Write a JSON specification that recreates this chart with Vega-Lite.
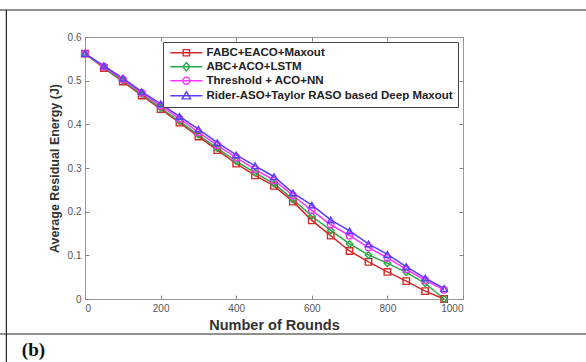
{
  "$schema": "https://vega.github.io/schema/vega-lite/v6.json",
  "width": 378,
  "height": 262,
  "autosize": {"type": "none"},
  "padding": {"left": 85, "top": 37, "right": 123, "bottom": 63},
  "background": "white",
  "config": {
    "view": {"stroke": "#9a9a9a", "strokeWidth": 1},
    "axis": {"domain": false, "grid": false, "tickColor": "#888", "tickSize": -4, "labelColor": "#555", "labelFont": "Liberation Sans", "labelFontSize": 10, "labelPadding": 8, "titleFont": "Liberation Sans", "titleFontSize": 12.5, "titleFontWeight": "bold", "titleColor": "#333"},
    "legend": {"orient": "top-right", "offset": 5, "padding": 5, "strokeColor": "#444", "fillColor": "white", "rowPadding": 0, "symbolSize": 49, "labelOffset": 27, "symbolStrokeWidth": 1.4, "labelFont": "Liberation Sans", "labelFontSize": 11.5, "labelFontWeight": "bold", "labelColor": "#222", "labelLimit": 320}
  },
  "resolve": {"axis": {"x": "independent", "y": "independent"}},
  "datasets": {
    "energy": [
      {"rounds": 0, "method": "FABC+EACO+Maxout", "energy": 0.562},
      {"rounds": 50, "method": "FABC+EACO+Maxout", "energy": 0.529},
      {"rounds": 100, "method": "FABC+EACO+Maxout", "energy": 0.498},
      {"rounds": 150, "method": "FABC+EACO+Maxout", "energy": 0.466},
      {"rounds": 200, "method": "FABC+EACO+Maxout", "energy": 0.435},
      {"rounds": 250, "method": "FABC+EACO+Maxout", "energy": 0.404},
      {"rounds": 300, "method": "FABC+EACO+Maxout", "energy": 0.372},
      {"rounds": 350, "method": "FABC+EACO+Maxout", "energy": 0.341},
      {"rounds": 400, "method": "FABC+EACO+Maxout", "energy": 0.310},
      {"rounds": 450, "method": "FABC+EACO+Maxout", "energy": 0.283},
      {"rounds": 500, "method": "FABC+EACO+Maxout", "energy": 0.259},
      {"rounds": 550, "method": "FABC+EACO+Maxout", "energy": 0.223},
      {"rounds": 600, "method": "FABC+EACO+Maxout", "energy": 0.180},
      {"rounds": 650, "method": "FABC+EACO+Maxout", "energy": 0.145},
      {"rounds": 700, "method": "FABC+EACO+Maxout", "energy": 0.110},
      {"rounds": 750, "method": "FABC+EACO+Maxout", "energy": 0.085},
      {"rounds": 800, "method": "FABC+EACO+Maxout", "energy": 0.062},
      {"rounds": 850, "method": "FABC+EACO+Maxout", "energy": 0.041},
      {"rounds": 900, "method": "FABC+EACO+Maxout", "energy": 0.018},
      {"rounds": 950, "method": "FABC+EACO+Maxout", "energy": 0.0},
      {"rounds": 0, "method": "ABC+ACO+LSTM", "energy": 0.562},
      {"rounds": 50, "method": "ABC+ACO+LSTM", "energy": 0.530},
      {"rounds": 100, "method": "ABC+ACO+LSTM", "energy": 0.500},
      {"rounds": 150, "method": "ABC+ACO+LSTM", "energy": 0.469},
      {"rounds": 200, "method": "ABC+ACO+LSTM", "energy": 0.438},
      {"rounds": 250, "method": "ABC+ACO+LSTM", "energy": 0.407},
      {"rounds": 300, "method": "ABC+ACO+LSTM", "energy": 0.376},
      {"rounds": 350, "method": "ABC+ACO+LSTM", "energy": 0.345},
      {"rounds": 400, "method": "ABC+ACO+LSTM", "energy": 0.316},
      {"rounds": 450, "method": "ABC+ACO+LSTM", "energy": 0.289},
      {"rounds": 500, "method": "ABC+ACO+LSTM", "energy": 0.264},
      {"rounds": 550, "method": "ABC+ACO+LSTM", "energy": 0.228},
      {"rounds": 600, "method": "ABC+ACO+LSTM", "energy": 0.190},
      {"rounds": 650, "method": "ABC+ACO+LSTM", "energy": 0.157},
      {"rounds": 700, "method": "ABC+ACO+LSTM", "energy": 0.126},
      {"rounds": 750, "method": "ABC+ACO+LSTM", "energy": 0.101},
      {"rounds": 800, "method": "ABC+ACO+LSTM", "energy": 0.082},
      {"rounds": 850, "method": "ABC+ACO+LSTM", "energy": 0.061},
      {"rounds": 900, "method": "ABC+ACO+LSTM", "energy": 0.036},
      {"rounds": 950, "method": "ABC+ACO+LSTM", "energy": 0.0},
      {"rounds": 0, "method": "Threshold + ACO+NN", "energy": 0.562},
      {"rounds": 50, "method": "Threshold + ACO+NN", "energy": 0.532},
      {"rounds": 100, "method": "Threshold + ACO+NN", "energy": 0.503},
      {"rounds": 150, "method": "Threshold + ACO+NN", "energy": 0.472},
      {"rounds": 200, "method": "Threshold + ACO+NN", "energy": 0.443},
      {"rounds": 250, "method": "Threshold + ACO+NN", "energy": 0.413},
      {"rounds": 300, "method": "Threshold + ACO+NN", "energy": 0.382},
      {"rounds": 350, "method": "Threshold + ACO+NN", "energy": 0.352},
      {"rounds": 400, "method": "Threshold + ACO+NN", "energy": 0.324},
      {"rounds": 450, "method": "Threshold + ACO+NN", "energy": 0.297},
      {"rounds": 500, "method": "Threshold + ACO+NN", "energy": 0.272},
      {"rounds": 550, "method": "Threshold + ACO+NN", "energy": 0.237},
      {"rounds": 600, "method": "Threshold + ACO+NN", "energy": 0.203},
      {"rounds": 650, "method": "Threshold + ACO+NN", "energy": 0.170},
      {"rounds": 700, "method": "Threshold + ACO+NN", "energy": 0.145},
      {"rounds": 750, "method": "Threshold + ACO+NN", "energy": 0.118},
      {"rounds": 800, "method": "Threshold + ACO+NN", "energy": 0.094},
      {"rounds": 850, "method": "Threshold + ACO+NN", "energy": 0.068},
      {"rounds": 900, "method": "Threshold + ACO+NN", "energy": 0.043},
      {"rounds": 950, "method": "Threshold + ACO+NN", "energy": 0.021},
      {"rounds": 0, "method": "Rider-ASO+Taylor RASO based Deep Maxout", "energy": 0.562},
      {"rounds": 50, "method": "Rider-ASO+Taylor RASO based Deep Maxout", "energy": 0.534},
      {"rounds": 100, "method": "Rider-ASO+Taylor RASO based Deep Maxout", "energy": 0.506},
      {"rounds": 150, "method": "Rider-ASO+Taylor RASO based Deep Maxout", "energy": 0.475},
      {"rounds": 200, "method": "Rider-ASO+Taylor RASO based Deep Maxout", "energy": 0.447},
      {"rounds": 250, "method": "Rider-ASO+Taylor RASO based Deep Maxout", "energy": 0.418},
      {"rounds": 300, "method": "Rider-ASO+Taylor RASO based Deep Maxout", "energy": 0.389},
      {"rounds": 350, "method": "Rider-ASO+Taylor RASO based Deep Maxout", "energy": 0.358},
      {"rounds": 400, "method": "Rider-ASO+Taylor RASO based Deep Maxout", "energy": 0.330},
      {"rounds": 450, "method": "Rider-ASO+Taylor RASO based Deep Maxout", "energy": 0.305},
      {"rounds": 500, "method": "Rider-ASO+Taylor RASO based Deep Maxout", "energy": 0.280},
      {"rounds": 550, "method": "Rider-ASO+Taylor RASO based Deep Maxout", "energy": 0.243},
      {"rounds": 600, "method": "Rider-ASO+Taylor RASO based Deep Maxout", "energy": 0.215},
      {"rounds": 650, "method": "Rider-ASO+Taylor RASO based Deep Maxout", "energy": 0.181},
      {"rounds": 700, "method": "Rider-ASO+Taylor RASO based Deep Maxout", "energy": 0.156},
      {"rounds": 750, "method": "Rider-ASO+Taylor RASO based Deep Maxout", "energy": 0.126},
      {"rounds": 800, "method": "Rider-ASO+Taylor RASO based Deep Maxout", "energy": 0.102},
      {"rounds": 850, "method": "Rider-ASO+Taylor RASO based Deep Maxout", "energy": 0.074},
      {"rounds": 900, "method": "Rider-ASO+Taylor RASO based Deep Maxout", "energy": 0.048},
      {"rounds": 950, "method": "Rider-ASO+Taylor RASO based Deep Maxout", "energy": 0.024}
    ]
  },
  "layer": [
    {
      "data": {"values": [{}]},
      "mark": {"type": "rule", "color": "#222", "strokeWidth": 1.2},
      "encoding": {
        "x": {"datum": -230, "type": "quantitative", "scale": {"domain": [0, 1000]}, "axis": null},
        "x2": {"datum": 1330},
        "y": {"datum": 0.6618, "type": "quantitative", "scale": {"domain": [0, 0.6]}, "axis": null}
      }
    },
    {
      "data": {"values": [{}]},
      "mark": {"type": "rule", "color": "#222", "strokeWidth": 1.2},
      "encoding": {
        "x": {"datum": -230, "type": "quantitative", "scale": {"domain": [0, 1000]}, "axis": null},
        "x2": {"datum": 1330},
        "y": {"datum": -0.0802, "type": "quantitative", "scale": {"domain": [0, 0.6]}, "axis": null}
      }
    },
    {
      "data": {"values": [{}]},
      "mark": {"type": "rule", "color": "#222", "strokeWidth": 1.2},
      "encoding": {
        "x": {"datum": -208, "type": "quantitative", "scale": {"domain": [0, 1000]}, "axis": null},
        "y": {"datum": 0.6618, "type": "quantitative", "scale": {"domain": [0, 0.6]}, "axis": null},
        "y2": {"datum": -0.1443}
      }
    },
    {
      "data": {"values": [{"label": "(b)"}]},
      "mark": {"type": "text", "align": "left", "baseline": "alphabetic", "font": "Liberation Serif", "fontSize": 19, "fontWeight": "bold", "color": "#111"},
      "encoding": {
        "x": {"datum": -167, "type": "quantitative", "scale": {"domain": [0, 1000]}, "axis": null},
        "y": {"datum": -0.1305, "type": "quantitative", "scale": {"domain": [0, 0.6]}, "axis": null},
        "text": {"field": "label"}
      }
    },
    {
      "data": {"name": "energy"},
      "mark": {"type": "line", "strokeWidth": 1.5},
      "encoding": {
        "x": {"field": "rounds", "type": "quantitative", "scale": {"domain": [0, 1000]}, "axis": {"orient": "bottom", "title": "Number of Rounds", "titleFontSize": 14.5, "values": [0, 200, 400, 600, 800, 1000], "format": "d", "titlePadding": 5}},
        "y": {"field": "energy", "type": "quantitative", "scale": {"domain": [0, 0.6]}, "axis": {"orient": "left", "title": "Average Residual Energy (J)", "values": [0, 0.1, 0.2, 0.3, 0.4, 0.5, 0.6], "format": "~g", "titlePadding": 6}},
        "color": {
          "field": "method", "type": "nominal",
          "scale": {"domain": ["FABC+EACO+Maxout", "ABC+ACO+LSTM", "Threshold + ACO+NN", "Rider-ASO+Taylor RASO based Deep Maxout"], "range": ["#d42a2a", "#2aa84a", "#ff33ff", "#5a3cff"]},
          "legend": {"title": null}
        }
      }
    },
    {
      "data": {"name": "energy"},
      "transform": [{"filter": "datum.method === 'FABC+EACO+Maxout'"}],
      "mark": {"type": "point", "shape": "square", "filled": false, "size": 42, "strokeWidth": 1.4, "opacity": 1},
      "encoding": {
        "x": {"field": "rounds", "type": "quantitative", "axis": null},
        "y": {"field": "energy", "type": "quantitative", "axis": null},
        "color": {"field": "method", "type": "nominal", "legend": {"title": null}}
      }
    },
    {
      "data": {"name": "energy"},
      "transform": [{"filter": "datum.method === 'ABC+ACO+LSTM'"}],
      "mark": {"type": "point", "shape": "diamond", "filled": false, "size": 42, "strokeWidth": 1.4, "opacity": 1},
      "encoding": {
        "x": {"field": "rounds", "type": "quantitative", "axis": null},
        "y": {"field": "energy", "type": "quantitative", "axis": null},
        "color": {"field": "method", "type": "nominal", "legend": {"title": null}}
      }
    },
    {
      "data": {"name": "energy"},
      "transform": [{"filter": "datum.method === 'Threshold + ACO+NN'"}],
      "mark": {"type": "point", "shape": "circle", "filled": false, "size": 42, "strokeWidth": 1.4, "opacity": 1},
      "encoding": {
        "x": {"field": "rounds", "type": "quantitative", "axis": null},
        "y": {"field": "energy", "type": "quantitative", "axis": null},
        "color": {"field": "method", "type": "nominal", "legend": {"title": null}}
      }
    },
    {
      "data": {"name": "energy"},
      "transform": [{"filter": "datum.method === 'Rider-ASO+Taylor RASO based Deep Maxout'"}],
      "mark": {"type": "point", "shape": "triangle-up", "filled": false, "size": 42, "strokeWidth": 1.4, "opacity": 1},
      "encoding": {
        "x": {"field": "rounds", "type": "quantitative", "axis": null},
        "y": {"field": "energy", "type": "quantitative", "axis": null},
        "color": {"field": "method", "type": "nominal", "legend": {"title": null}}
      }
    },
    {
      "data": {"name": "energy"},
      "mark": {"type": "point", "filled": false, "size": 0, "strokeWidth": 0},
      "encoding": {
        "x": {"field": "rounds", "type": "quantitative", "scale": {"domain": [0, 1000]}, "axis": {"orient": "top", "labels": false, "title": null, "values": [0, 200, 400, 600, 800, 1000]}},
        "y": {"field": "energy", "type": "quantitative", "scale": {"domain": [0, 0.6]}, "axis": {"orient": "right", "labels": false, "title": null, "values": [0, 0.1, 0.2, 0.3, 0.4, 0.5, 0.6]}},
        "color": {"field": "method", "type": "nominal", "legend": {"title": null}},
        "shape": {
          "field": "method", "type": "nominal",
          "scale": {"domain": ["FABC+EACO+Maxout", "ABC+ACO+LSTM", "Threshold + ACO+NN", "Rider-ASO+Taylor RASO based Deep Maxout"], "range": ["M-1,0H8.2M2.7,-0.9H4.5V0.9H2.7Z", "M-1,0H8.2M3.6,-1.2L4.6,0L3.6,1.2L2.6,0Z", "M-1,0H8.2M2.6,0A1,1 0 1,0 4.6,0A1,1 0 1,0 2.6,0Z", "M-1,0H8.2M3.6,-1.2L4.8,0.9H2.4Z"]},
          "legend": {"title": null}
        }
      }
    }
  ]
}
